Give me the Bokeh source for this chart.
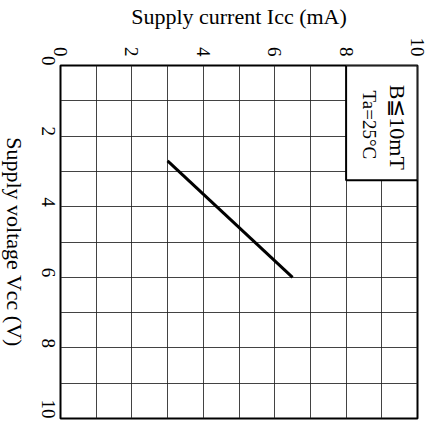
import math
from bokeh.plotting import figure
from bokeh.layouts import row
from bokeh.models import Range1d, FixedTicker
from bokeh.core.properties import value
from bokeh.embed import file_html
from bokeh.resources import INLINE

# Data (chart is drawn rotated: Icc horizontal on top, Vcc vertical downward)
vcc = [2.7, 6.0]          # Supply voltage Vcc (V)
icc = [3.0, 6.5]          # Supply current Icc (mA)
icc_ticks = [0, 2, 4, 6, 8, 10]
vcc_ticks = [0, 2, 4, 6, 8, 10]
grid_ticks = list(range(0, 11))
x_title = "Supply current Icc (mA)"
y_title = "Supply voltage Vcc (V)"
note_lines = ["B≦10mT", "Ta=25°C"]
note_box = dict(left=8.0, right=10.0, top=0.0, bottom=3.25)

FONT = "Liberation Serif"
LABEL_W = 25

p = figure(width=430 - LABEL_W, height=433, output_backend="svg", toolbar_location=None,
           x_range=Range1d(0, 10), y_range=Range1d(10, 0),
           x_axis_location="above", y_axis_location="left",
           min_border_left=60 - LABEL_W, min_border_right=13,
           min_border_top=62, min_border_bottom=15)
p.background_fill_color = "white"
p.border_fill_color = "white"
p.outline_line_color = "black"
p.outline_line_width = 2

xa, ya = p.xaxis[0], p.yaxis[0]
xa.ticker = FixedTicker(ticks=icc_ticks)
ya.ticker = FixedTicker(ticks=vcc_ticks)
for ax in (xa, ya):
    ax.axis_line_color = None
    ax.major_tick_line_color = None
    ax.minor_tick_line_color = None
    ax.major_tick_out = 0
    ax.major_tick_in = 0
    ax.minor_tick_out = 0
    ax.minor_tick_in = 0
    ax.major_label_text_font = FONT
    ax.major_label_text_font_size = "19px"
    ax.major_label_text_color = "black"
    ax.major_label_orientation = -math.pi / 2
    ax.axis_label_text_font = FONT
    ax.axis_label_text_font_size = "22px"
    ax.axis_label_text_font_style = "normal"
    ax.axis_label_text_color = "black"

xa.major_label_standoff = 9
ya.major_label_standoff = 12
xa.axis_label = x_title
xa.axis_label_standoff = 6

for g in (p.xgrid[0], p.ygrid[0]):
    g.ticker = FixedTicker(ticks=grid_ticks)
    g.grid_line_color = "#222222"
    g.grid_line_width = 1
    g.grid_line_alpha = 0.85

p.line(x=icc, y=vcc, line_color="black", line_width=3)

p.quad(left=[note_box["left"]], right=[note_box["right"]],
       top=[note_box["top"]], bottom=[note_box["bottom"]],
       fill_color="white", line_color="black", line_width=2)

p.text(x=[9.45], y=[1.75], text=[note_lines[0]], angle=-math.pi / 2,
       text_align="center", text_baseline="middle",
       text_font=value(FONT), text_font_size="22px", text_color="black")
p.text(x=[8.65], y=[1.68], text=[note_lines[1]], angle=-math.pi / 2,
       text_align="center", text_baseline="middle",
       text_font=value(FONT), text_font_size="19px", text_color="black")

# narrow strip on the left carrying the (top-to-bottom) Vcc axis title
q = figure(width=LABEL_W, height=433, output_backend="svg", toolbar_location=None,
           x_range=Range1d(0, 1), y_range=p.y_range,
           x_axis_location=None, y_axis_location=None,
           min_border_left=0, min_border_right=0,
           min_border_top=62, min_border_bottom=15)
q.outline_line_color = None
q.background_fill_color = "white"
q.border_fill_color = "white"
q.grid.visible = False
q.text(x=[0.54], y=[5.0], text=[y_title], angle=-math.pi / 2,
       text_align="center", text_baseline="middle",
       text_font=value(FONT), text_font_size="22px", text_color="black")

layout = row(q, p, spacing=0)
open("out.html", "w").write(file_html(layout, INLINE))
